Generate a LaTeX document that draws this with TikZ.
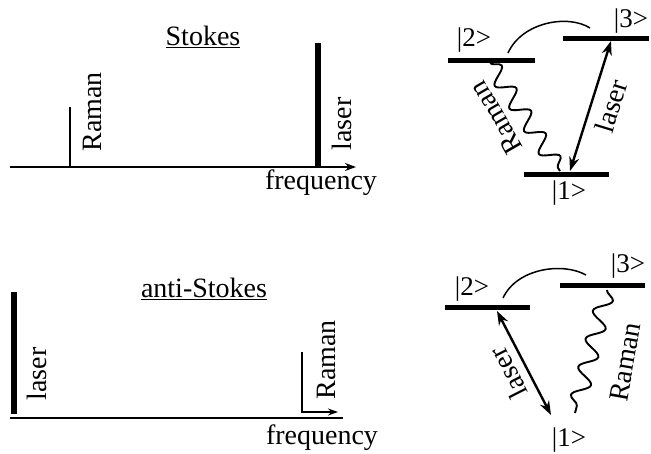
\documentclass[tikz,border=0pt]{standalone}
\usepackage{fontspec}
\setmainfont{Liberation Serif}
\usetikzlibrary{arrows.meta,decorations.pathmorphing}
\begin{document}
\begin{tikzpicture}[x=1pt,y=-1pt,
  lbl/.style={font=\fontsize{28}{30}\selectfont, inner sep=0pt},
  ket/.style={font=\fontsize{27}{29}\selectfont, inner sep=0pt},
  axis/.style={line width=1.5pt},
  level/.style={line width=5pt},
  weakline/.style={line width=1.5pt},
  strongline/.style={line width=5.5pt},
  pump/.style={line width=2.4pt, {Stealth[length=14pt,width=10pt]}-{Stealth[length=14pt,width=10pt]}},
  photon/.style={line width=1.9pt, decorate, decoration={snake, segment length=#1, amplitude=8.5pt}},
  hop/.style={line width=1.5pt}]
\useasboundingbox (0,0) rectangle (651,453);

% ---------- Stokes spectrum ----------
\coordinate (ax1s) at (10,167);
\coordinate (ax1e) at (356,167);
\draw[axis,-{Stealth[length=11pt,width=8pt]}] (ax1s) -- (ax1e);
\coordinate (r1b) at (70,167);
\coordinate (r1t) at (70,107);
\draw[weakline] (r1b) -- (r1t);
\coordinate (p1b) at (318,167);
\coordinate (p1t) at (318,43);
\draw[strongline] (p1b) -- (p1t);
\node[lbl] (stokes) at (203,37) {\underline{Stokes}};
\node[lbl,rotate=90] (raman1) at (92,112) {Raman};
\node[lbl,rotate=90] (laser1) at (342,124) {laser};
\node[lbl] (freq1) at (321,183) {frequency};

% ---------- Stokes level scheme ----------
\coordinate (s2a) at (448,60);  \coordinate (s2b) at (535,60);
\coordinate (s3a) at (563,38);  \coordinate (s3b) at (649,38);
\coordinate (s1a) at (524,174); \coordinate (s1b) at (609,174);
\draw[level] (s2a) -- (s2b);
\draw[level] (s3a) -- (s3b);
\draw[level] (s1a) -- (s1b);
\node[ket] (k2) at (474,40) {|2>};
\node[ket] (k3) at (631,21) {|3>};
\node[ket] (k1) at (569,193) {|1>};
\coordinate (arcA) at (508,53);
\coordinate (arcB) at (590,28);
\draw[hop] (arcA) .. controls (522,22) and (568,14) .. (arcB);
\coordinate (ramA) at (490,63);
\coordinate (ramB) at (560,171);
\draw[photon=27pt] (ramA) -- (ramB);
\coordinate (lasA) at (611,41);
\coordinate (lasB) at (570,171);
\draw[pump] (lasA) -- (lasB);
\node[lbl,rotate=120] (raman2) at (496,118) {Raman};
\node[lbl,rotate=73] (laser2) at (611,106) {laser};

% ---------- anti-Stokes spectrum ----------
\coordinate (ax2s) at (10,418);
\coordinate (ax2e) at (343,418);
\draw[axis] (ax2s) -- (ax2e);
\coordinate (r3t) at (302,352);
\coordinate (r3c) at (302,412);
\coordinate (r3e) at (338,412);
\draw[weakline,-{Stealth[length=10pt,width=7pt]}] (r3t) -- (r3c) -- (r3e);
\coordinate (p3b) at (14,414);
\coordinate (p3t) at (14,292);
\draw[strongline] (p3b) -- (p3t);
\node[lbl] (astokes) at (204,289) {\underline{anti-Stokes}};
\node[lbl,rotate=90] (laser3) at (37,374) {laser};
\node[lbl,rotate=90] (raman3) at (326,360) {Raman};
\node[lbl] (freq2) at (322,438) {frequency};

% ---------- anti-Stokes level scheme ----------
\coordinate (a2a) at (445,307); \coordinate (a2b) at (530,307);
\coordinate (a3a) at (560,285); \coordinate (a3b) at (645,285);
\draw[level] (a2a) -- (a2b);
\draw[level] (a3a) -- (a3b);
\node[ket] (q2) at (472,289) {|2>};
\node[ket] (q3) at (628,266) {|3>};
\node[ket] (q1) at (569,440) {|1>};
\coordinate (arcC) at (503,298);
\coordinate (arcD) at (586,275);
\draw[hop] (arcC) .. controls (517,268) and (563,262) .. (arcD);
\coordinate (ramC) at (607,290);
\coordinate (ramD) at (575,413);
\draw[photon=29pt] (ramC) -- (ramD);
\coordinate (lasC) at (497,311);
\coordinate (lasD) at (551,415);
\draw[pump] (lasC) -- (lasD);
\node[lbl,rotate=117] (laser4) at (508,373) {laser};
\node[lbl,rotate=80] (raman4) at (625,362) {Raman};
\end{tikzpicture}
\end{document}
